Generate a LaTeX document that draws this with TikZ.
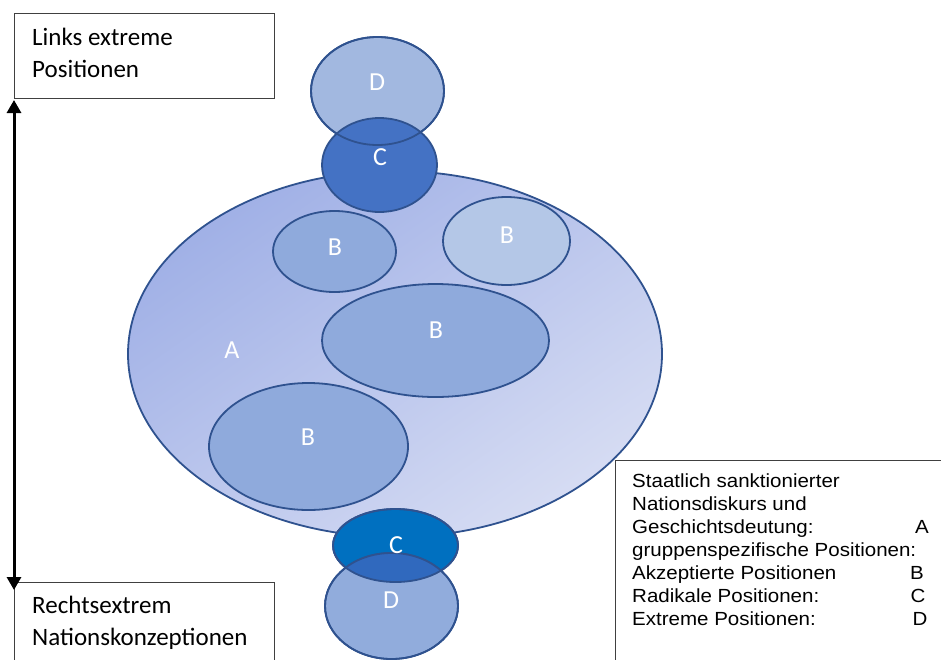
\documentclass[tikz,border=0pt]{standalone}
\usepackage{fontspec}
\setmainfont{Carlito}
\newfontfamily\legfont[FakeStretch=1.08]{Liberation Sans}
\usetikzlibrary{shapes.geometric,arrows.meta}
\definecolor{outl}{HTML}{2F528F}
\definecolor{aTop}{HTML}{A0B0E6}
\definecolor{aBot}{HTML}{D6DCF3}
\definecolor{bMid}{HTML}{8FAADC}
\definecolor{bLight}{HTML}{B4C7E7}
\definecolor{dTop}{HTML}{A2B8E0}
\definecolor{cTop}{HTML}{4472C4}
\definecolor{cBot}{HTML}{0070C0}
\definecolor{dBot}{HTML}{91ACDC}
\definecolor{ovBot}{HTML}{3069BE}
\definecolor{boxline}{HTML}{404040}
\tikzset{
  ell/.style={ellipse, draw=outl, line width=1.8pt, inner sep=0pt, outer sep=0pt},
  lab/.style={text=white, font=\fontsize{26}{30}\selectfont, inner sep=0pt},
  sidebox/.style={draw=boxline, line width=1pt, fill=white},
  sidetext/.style={anchor=base west, align=left, inner sep=0pt, font=\fontsize{25}{32}\selectfont},
  legtext/.style={anchor=base west, align=left, inner sep=0pt, font=\legfont\fontsize{19}{23}\selectfont},
  legletter/.style={anchor=base, inner sep=0pt, font=\legfont\fontsize{19}{23}\selectfont}
}
\begin{document}
\begin{tikzpicture}[x=1pt,y=-1pt]
\clip (0,0) rectangle (941,659);
\fill[white] (0,0) rectangle (941,659);

% big ellipse A
\node[ell, minimum width=534pt, minimum height=366pt, top color=aTop, bottom color=aBot, shading angle=35] (A) at (395,354) {};
\node[lab] (Alab) at (232,350) {A};

% B ellipses
\node[ell, fill=bMid, minimum width=123pt, minimum height=81pt] (B1) at (334.5,251.5) {};
\node[ell, fill=bLight, minimum width=127pt, minimum height=88pt] (B2) at (506.5,241) {};
\node[ell, fill=bMid, minimum width=227pt, minimum height=113pt] (B3) at (435.5,340.5) {};
\node[ell, fill=bMid, minimum width=199pt, minimum height=127pt] (B4) at (308.5,446.5) {};
\node[lab] (B1lab) at (335,247) {B};
\node[lab] (B2lab) at (507,235.5) {B};
\node[lab] (B3lab) at (436,330.5) {B};
\node[lab] (B4lab) at (308,437.5) {B};

% top D and C
\node[ell, fill=dTop, minimum width=133pt, minimum height=108pt] (Dt) at (377.5,91) {};
\node[ell, fill=cTop, minimum width=115pt, minimum height=94pt] (Ct) at (379.5,165) {};
\node[ell, minimum width=133pt, minimum height=108pt] (Dt2) at (377.5,91) {};
\node[lab] (Dtlab) at (377,82.5) {D};
\node[lab] (Ctlab) at (380,157) {C};

% bottom C and D
\node[ell, fill=cBot, minimum width=125pt, minimum height=73pt] (Cb) at (395.5,545.5) {};
\node[ell, fill=dBot, minimum width=133pt, minimum height=106pt] (Db) at (391.5,606) {};
\begin{scope}
  \clip (395.5,545.5) ellipse [x radius=62.5pt, y radius=36.5pt];
  \fill[ovBot] (391.5,606) ellipse [x radius=66.5pt, y radius=53pt];
\end{scope}
\node[ell, minimum width=125pt, minimum height=73pt] (Cb2) at (395.5,545.5) {};
\node[ell, minimum width=133pt, minimum height=106pt] (Db2) at (391.5,606) {};
\node[lab] (Cblab) at (396,545) {C};
\node[lab] (Dblab) at (391,600.5) {D};

% side boxes
\draw[sidebox] (14,13) rectangle (274,98);
\node[sidetext] (lt) at (32,77) {Links extreme\\Positionen};
\draw[sidebox] (14,582) rectangle (274,670);
\node[sidetext] (rt) at (32,645) {Rechtsextrem\\Nationskonzeptionen};

% arrow
\coordinate (arrTop) at (14,100);
\coordinate (arrBot) at (14,590);
\draw[line width=3pt, {Triangle[length=13pt,width=14pt]}-{Triangle[length=13pt,width=14pt]}] (arrTop) -- (arrBot);

% legend
\draw[sidebox] (615,460) rectangle (950,670);
\node[legtext] (leg) at (632,625) {Staatlich sanktionierter\\Nationsdiskurs und\\Geschichtsdeutung:\\gruppenspezifische Positionen:\\Akzeptierte Positionen\\Radikale Positionen:\\Extreme Positionen:};
\node[legletter] (legA) at (922,533) {A};
\node[legletter] (legB) at (917,579) {B};
\node[legletter] (legC) at (918,602) {C};
\node[legletter] (legD) at (920,625) {D};
\end{tikzpicture}
\end{document}
